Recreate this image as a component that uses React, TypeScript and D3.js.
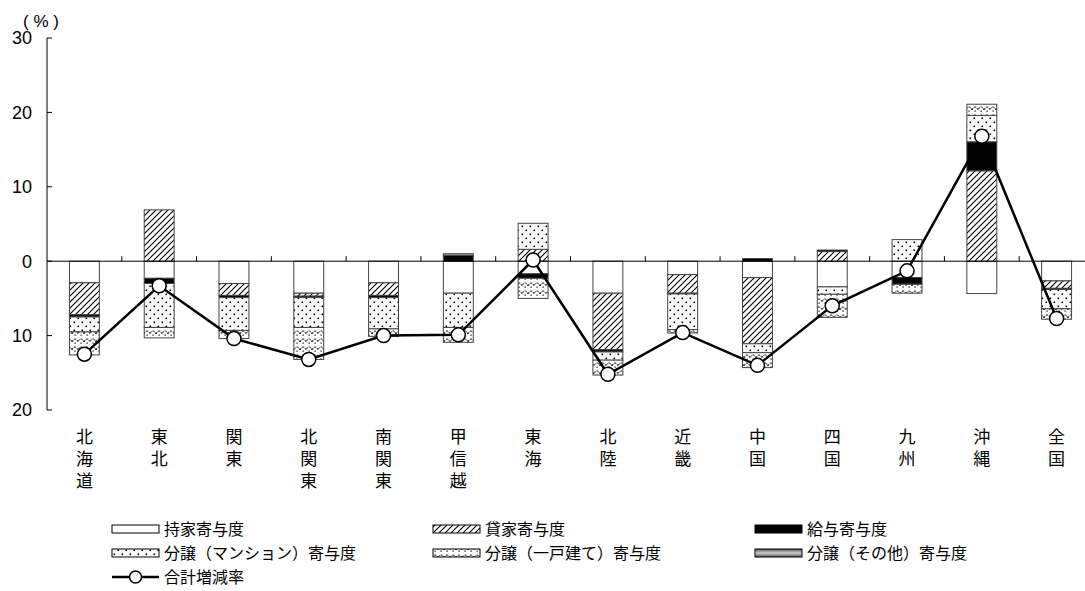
import React from "react";
import * as d3 from "d3";

const categories = ["北海道", "東北", "関東", "北関東", "南関東", "甲信越", "東海", "北陸", "近畿", "中国", "四国", "九州", "沖縄", "全国"];
const ownerVals = [-2.9, -2.3, -3.0, -4.3, -2.9, -4.3, -1.7, -4.3, -1.8, -2.2, -3.45, -2.2, -4.35, -2.65];
const rentalVals = [-4.3, 6.9, -1.6, -0.4, -1.7, 0, 1.6, -7.6, -2.5, -8.9, 1.3, 0, 12.15, -1.0];
const issuedVals = [-0.3, -0.7, -0.3, -0.2, -0.3, 0.8, -0.6, -0.3, -0.1, 0.35, 0.2, -0.9, 3.9, -0.15];
const condoVals = [-2.0, -5.9, -4.4, -4.0, -4.2, -4.6, 3.5, -1.1, -4.8, -1.2, -1.0, 2.9, 3.55, -2.6];
const detachedVals = [-3.1, -1.4, -1.1, -4.3, -1.0, -2.0, -2.7, -2.0, -0.45, -2.0, -3.1, -1.2, 1.5, -1.4];
const otherVals = [0, 0, 0, 0, 0, 0.2, 0, 0, 0, 0, 0, 0, 0, 0];
const totalVals = [-12.5, -3.3, -10.4, -13.2, -10.0, -9.9, 0.15, -15.2, -9.6, -14.0, -6.0, -1.3, 16.8, -7.7];
const yTicks = [30, 20, 10, 0, -10, -20];

const seriesKeys = ["owner", "rental", "issued", "condo", "detached", "other"];
const seriesNames = ["持家寄与度", "貸家寄与度", "給与寄与度", "分譲（マンション）寄与度", "分譲（一戸建て）寄与度", "分譲（その他）寄与度"];
const seriesFill = ["#ffffff", "url(#hatch)", "#000000", "url(#dots)", "url(#wave)", "url(#grayGrad)"];

const rows = categories.map((c, i) => ({
  cat: c,
  owner: ownerVals[i],
  rental: rentalVals[i],
  issued: issuedVals[i],
  condo: condoVals[i],
  detached: detachedVals[i],
  other: otherVals[i],
}));

const NUM_FONT = "'Liberation Sans', Arial, sans-serif";
const CJK_FONT = "'Noto Sans CJK JP', sans-serif";

export default function App() {
  const W = 1085, H = 591;
  const x = d3.scaleBand<string>().domain(categories).range([47, 1094]).paddingInner(0.6).paddingOuter(0.3);
  const xb = d3.scaleBand<string>().domain(categories).range([47, 1094]).padding(0);
  const y = d3.scaleLinear().domain([-20, 30]).range([410, 38]);
  const stack = d3.stack<any>().keys(seriesKeys).offset(d3.stackOffsetDiverging);
  const stacked = stack(rows);
  const cx = (c: string) => (x(c) as number) + x.bandwidth() / 2;
  const line = d3.line<number>().x((_, i) => cx(categories[i])).y((v) => y(v));

  const legendItems = [
    { i: 0, lx: 112, ly: 529 },
    { i: 1, lx: 433, ly: 529 },
    { i: 2, lx: 755, ly: 529 },
    { i: 3, lx: 112, ly: 553 },
    { i: 4, lx: 433, ly: 553 },
    { i: 5, lx: 755, ly: 553 },
  ];

  return (
    <svg width={W} height={H} style={{ position: "absolute", left: 0, top: 0, background: "#fff" }}>
      <defs>
        <pattern id="hatch" width="6" height="6" patternUnits="userSpaceOnUse">
          <rect width="6" height="6" fill="#fff" />
          <path d="M0,6 L6,0 M-1.5,1.5 L1.5,-1.5 M4.5,7.5 L7.5,4.5" stroke="#000" strokeWidth="1.1" />
        </pattern>
        <pattern id="dots" width="8" height="8" patternUnits="userSpaceOnUse">
          <rect width="8" height="8" fill="#fff" />
          <rect x="1.5" y="1.5" width="1.6" height="1.6" fill="#000" />
          <rect x="5.5" y="5.5" width="1.6" height="1.6" fill="#000" />
        </pattern>
        <pattern id="wave" width="12" height="8" patternUnits="userSpaceOnUse">
          <rect width="12" height="8" fill="#fff" />
          <path d="M0,6 C1.5,2 4.5,2 6,6 C7.5,2 10.5,2 12,6" fill="none" stroke="#000" strokeWidth="1" strokeDasharray="2.2,1" />
          <rect x="2.5" y="6.5" width="1.2" height="1.2" fill="#000" />
          <rect x="8.5" y="6.5" width="1.2" height="1.2" fill="#000" />
        </pattern>
        <linearGradient id="grayGrad" x1="0" y1="0" x2="0" y2="1">
          <stop offset="0" stopColor="#555" />
          <stop offset="0.5" stopColor="#ccc" />
          <stop offset="1" stopColor="#555" />
        </linearGradient>
      </defs>

      {/* bars */}
      {stacked.map((s, si) => (
        <g key={s.key}>
          {s.map((d, i) => {
            const v = (rows[i] as any)[s.key];
            if (!v) return null;
            const y0 = y(Math.max(d[0], d[1]));
            const y1 = y(Math.min(d[0], d[1]));
            return (
              <rect
                key={i}
                x={x(categories[i])}
                y={y0}
                width={x.bandwidth()}
                height={y1 - y0}
                fill={seriesFill[si]}
                stroke="#444"
                strokeWidth={1}
              />
            );
          })}
        </g>
      ))}

      {/* y axis */}
      <line x1={47} x2={47} y1={y(30)} y2={y(-20)} stroke="#000" strokeWidth={1} />
      {yTicks.map((t) => (
        <g key={t}>
          <line x1={47} x2={52} y1={y(t)} y2={y(t)} stroke="#000" strokeWidth={1} />
          <text x={32} y={y(t)} dy="0.36em" textAnchor="end" fontSize={18} fontFamily={NUM_FONT} fill="#000">
            {Math.abs(t)}
          </text>
        </g>
      ))}
      <text x={41} y={27} textAnchor="middle" fontSize={17} fontFamily={NUM_FONT}>( % )</text>

      {/* x axis at zero */}
      <line x1={47} x2={W} y1={y(0)} y2={y(0)} stroke="#000" strokeWidth={1} />
      {categories.slice(1).map((c) => (
        <line key={c} x1={xb(c) as number} x2={xb(c) as number} y1={y(0)} y2={y(0) - 5} stroke="#000" strokeWidth={1} />
      ))}

      {/* category labels (vertical) */}
      {categories.map((c) => (
        <text
          key={c}
          x={cx(c)}
          y={428}
          fontSize={17}
          fontFamily={CJK_FONT}
          fill="#000"
          style={{ writingMode: "vertical-rl", letterSpacing: "5px" }}
        >
          {c}
        </text>
      ))}

      {/* total line */}
      <path d={line(totalVals) || ""} fill="none" stroke="#000" strokeWidth={2.5} />
      {totalVals.map((v, i) => (
        <circle key={i} cx={cx(categories[i])} cy={y(v)} r={7} fill="#fff" stroke="#000" strokeWidth={1.5} />
      ))}

      {/* legend */}
      {legendItems.map(({ i, lx, ly }) => (
        <g key={i}>
          <rect x={lx} y={ly - 4} width={47} height={8} fill={seriesFill[i]} stroke="#000" strokeWidth={1} />
          <text x={lx + 52} y={ly} dy="0.36em" fontSize={16} fontFamily={CJK_FONT} fill="#000">{seriesNames[i]}</text>
        </g>
      ))}
      <g>
        <line x1={112} x2={159} y1={577} y2={577} stroke="#000" strokeWidth={2.5} />
        <circle cx={135.5} cy={577} r={6} fill="#fff" stroke="#000" strokeWidth={1.5} />
        <text x={164} y={577} dy="0.36em" fontSize={16} fontFamily={CJK_FONT} fill="#000">合計増減率</text>
      </g>
    </svg>
  );
}
